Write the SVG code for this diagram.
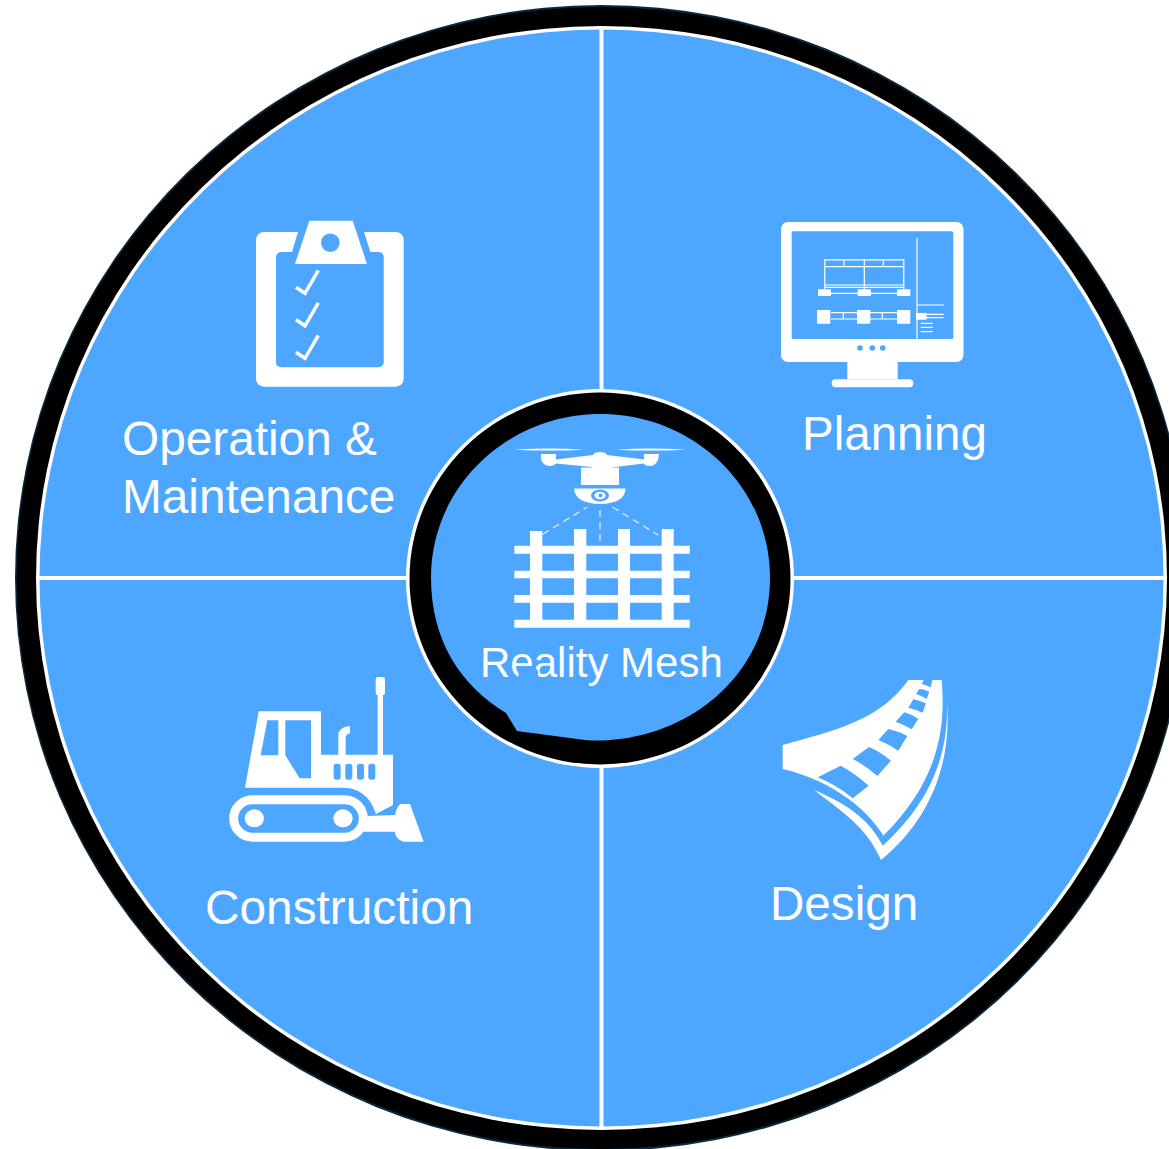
<svg xmlns="http://www.w3.org/2000/svg" width="1169" height="1149" viewBox="0 0 1169 1149">
<style>
.t{font-family:"Liberation Sans",Arial,sans-serif;fill:#fff}
.b{fill:#4da6ff}
.w{fill:#fff}
.l{stroke:#fff;fill:none}
</style>
<rect width="1169" height="1149" fill="#fff"/>
<g id="disc">
<ellipse cx="601.5" cy="578" rx="586.5" ry="573" fill="#0b2a3f"/>
<ellipse cx="601.5" cy="578" rx="585" ry="571" fill="#000"/>
<ellipse cx="601.5" cy="578" rx="565.5" ry="552" fill="#fff"/>
<ellipse cx="601.5" cy="578" rx="562" ry="548.5" class="b"/>
</g>
<g id="connectors">
<path class="l" stroke-width="4" d="M601.5 28V392M601.5 765V1128M38 578H408M792 578H1165"/>
</g>
<g id="center-node">
<ellipse cx="600" cy="578.5" rx="194" ry="189.5" fill="#fff"/>
<ellipse cx="600" cy="578.5" rx="190.500" ry="186" fill="#000"/>
<path class="b" d="M587 740.300C680 745 770 680 770 577.500C770 487 694 414 600.500 414C507 414 431 487 431 577.500C431 640 460 685 506 713L517 731Z"/>
<g id="drone">
<path class="w" d="M514 449.700Q550 447.500 584 449.700Q550 451.500 514 449.700ZM616 449.700Q650 447.500 686 449.700Q650 451.500 616 449.700Z"/>
<path class="w" d="M541 454H556V459.500L593 455Q594 452 600 452Q606 452 607 455L644 459.500V454H659L658 460Q655 466 650 466Q645 466 644 463.500L607 468V467.500H619V485H581V467.500H592V467L556 463.500Q553 466 550 466Q544 466 541 460Z"/>
<path class="w" d="M574 488.500H625.500Q625 503.500 600 504Q575 503.500 574 488.500Z"/>
<ellipse cx="600" cy="495.500" rx="9" ry="6" class="b"/>
<ellipse cx="600" cy="495.500" rx="5.500" ry="3.800" class="w"/>
<circle cx="600.500" cy="495.500" r="2" class="b"/>
<path class="l" stroke-width="1.300" stroke-dasharray="7 5" opacity=".8" d="M542.700 534.300L587.300 507M600 510V550M612.300 507L658.300 535"/>
<path class="w" d="M530 531H542.300V620H530ZM574 529H586.300V620H574ZM618 529H630V620H618ZM661.700 529H673.700V620H661.700ZM514.300 545.700H689.700V553.700H514.300ZM514.300 570.700H689.700V578.300H514.300ZM514.300 595H689.700V602.700H514.300ZM514.300 619.700H689.700V627.700H514.300Z"/>
</g>
<text class="t" x="480" y="677" font-size="42">Reality Mesh</text>
<path class="b" d="M518.500 668.500L534 667L538 670.500V679H518.500Z"/>
</g>
<g id="planning-node">
<rect x="781" y="222" width="182.500" height="140" rx="7" class="w"/>
<rect x="791.700" y="231.300" width="161.600" height="107.700" rx="1.500" class="b"/>
<circle cx="860" cy="348" r="2.800" class="b"/><circle cx="872.300" cy="348" r="2.800" class="b"/><circle cx="882.700" cy="348" r="2.800" class="b"/>
<path class="w" d="M847.300 362H897.700V379.300H847.300Z"/>
<rect x="831.700" y="379.300" width="81.600" height="8" rx="4" class="w"/>
<path class="l" stroke-width="1.200" d="M917 237.700V339M824.800 289V259.800H903.800V289M824.800 266.700H903.800M844 259.800V266.700M864.300 259.800V289M883.300 259.800V266.700M824.800 285H903.800M824.800 287.300H903.800M831 293.300H897M831 312.700H897M831 319H897M843.300 312.700V319M882.300 312.700V319M917.700 305H943.700M926 314.300H943.700M926 317.700H943.700M920.700 323.300H932.700M920.700 327.300H932.700M920.700 331.700H932.700"/>
<path class="w" d="M818 289.300H831V296H818ZM857.700 289.300H871V296H857.700ZM897 289.300H910.300V296H897ZM817 310H830.300V323.700H817ZM857 310H870.300V323.700H857ZM897 310H910.300V323.700H897ZM916 313H926.700V319.700H916Z"/>
<text class="t" x="802" y="450" font-size="47.500">Planning</text>
</g>
<g id="operation-node">
<rect x="256" y="232" width="147.700" height="154.700" rx="8" class="w"/>
<rect x="276" y="252" width="107.700" height="115.300" rx="5" class="b"/>
<path class="b" d="M298.300 231H363.700L370.700 253H291.700Z"/>
<path class="w" d="M309.300 220.700H352.700L367 264H295Z"/>
<circle cx="330.300" cy="242.700" r="9.300" class="b"/>
<path class="l" stroke-width="3.500" d="M296 287.300L305 293.300L318.300 270.300M296 319.800L305 325.800L318.300 302.800M296 352.300L305 358.300L318.300 335.300"/>
<text class="t" font-size="47.750"><tspan x="122" y="454.500">Operation &amp;</tspan><tspan x="122" y="512.500">Maintenance</tspan></text>
</g>
<g id="construction-node">
<g transform="translate(215 670) scale(.3333)">
<path class="w" d="M131 124H318V254H534V405L483 432C470 390 440 353 385 353H90Z"/>
<path class="b" d="M157 151H190V256H137ZM211 151H288V325H254L211 256Z"/>
<rect x="356" y="281" width="21" height="48" rx="8" class="b"/><rect x="391" y="281" width="21" height="48" rx="8" class="b"/><rect x="426" y="281" width="21" height="48" rx="8" class="b"/><rect x="460" y="281" width="21" height="48" rx="8" class="b"/>
<path class="w" d="M370 256V195Q370 172 405 168V190Q392 192 392 205V256Z"/>
<path class="w" d="M488 256V75Q482 75 482 68V28Q482 21 489 21H503Q510 21 510 28V68Q510 75 504 75V256Z"/>
<rect x="56" y="389.500" width="389" height="112" rx="56" fill="none" stroke="#fff" stroke-width="27"/>
<ellipse cx="118" cy="445" rx="29" ry="27" class="w"/><ellipse cx="384" cy="445" rx="29" ry="27" class="w"/>
<path class="w" d="M458 438L540 435Q545 410 556 402H585L626 515H565Q540 505 540 485H445Z"/>
</g>
<text class="t" x="205" y="924" font-size="47.800">Construction</text>
</g>
<g id="design-node">
<g transform="translate(770 670) scale(.3333)">
<path class="w" d="M415 30H515C525 150 520 320 340 497C300 430 200 335 38 297V225C200 180 330 150 415 30Z"/>
<path class="b" d="M143 322L212 287Q255 310 296 347L248 385Q200 345 143 322ZM248 267L297 231Q330 245 363 272L322 318Q285 285 248 267ZM325 210L355 177Q385 183 412 198L385 242Q355 222 325 210ZM377 155L403 127Q425 133 445 146L425 178Q400 163 377 155ZM415 113L430 88Q450 92 468 100L458 128Q435 117 415 113ZM438 72L448 57Q463 58 478 65L470 87Q455 76 438 72ZM456 42L460 30H487L482 52Q470 46 456 42Z"/>
<path class="w" d="M530 88C540 250 480 400 338 527C300 450 230 400 132 360C210 420 290 470 333 570C480 450 548 280 530 88Z"/>
</g>
<text class="t" x="770" y="920" font-size="47.600">Design</text>
</g>
</svg>
